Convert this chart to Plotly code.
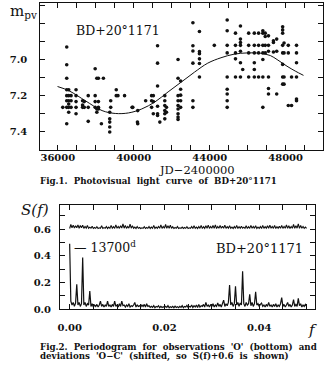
import plotly.graph_objects as go

W, H = 327, 368

# ---------------- Fig.1 data: photovisual magnitudes ----------------
obs_columns_jd = [36261, 36470, 36574, 36698, 36960, 37304, 37393, 37602, 37967, 38055,
                  38139, 38295, 38400, 38734, 38786, 39078, 39167, 39516, 39913, 39949,
                  40194, 40210, 40627, 40940, 41030, 41254, 41374, 41635, 41723, 42333,
                  42469, 43116, 43460, 44243, 44921, 45359, 45620, 45740, 46053, 46350,
                  46575, 46800, 46925, 47097, 47358, 47530, 47843, 47916, 48140, 48312,
                  48573]
obs_columns_mag = [
    [7.266],
    [6.930, 7.029, 7.104, 7.168, 7.201, 7.229, 7.266, 7.357],
    [7.168, 7.201, 7.229, 7.247, 7.266, 7.293],
    [7.201, 7.229, 7.266],
    [7.168, 7.201, 7.234, 7.266, 7.302],
    [7.229, 7.253, 7.266],
    [7.234, 7.266],
    [7.201, 7.266, 7.344],
    [7.051, 7.201, 7.234, 7.266],
    [7.104, 7.275, 7.293],
    [7.104, 7.234, 7.266, 7.275],
    [7.357],
    [7.104],
    [7.293, 7.330, 7.348, 7.375, 7.403],
    [7.229, 7.266],
    [7.168, 7.201],
    [7.201],
    [7.201],
    [7.266],
    [7.266],
    [7.348],
    [7.284, 7.357],
    [7.229],
    [7.201, 7.229, 7.266],
    [7.201, 7.234, 7.302],
    [6.923, 7.020, 7.147, 7.260, 7.302, 7.311],
    [7.348],
    [7.201, 7.229, 7.256, 7.284, 7.302, 7.330],
    [7.266, 7.293],
    [7.000, 7.104, 7.201, 7.229, 7.256, 7.275, 7.302, 7.320, 7.333],
    [7.119, 7.165, 7.198, 7.229, 7.266],
    [6.795, 6.923, 6.952, 7.020, 7.229, 7.266],
    [6.844, 6.956, 6.967, 6.996, 7.022, 7.097],
    [6.921],
    [6.780, 6.840, 6.921, 6.963, 7.097, 7.165, 7.192, 7.229, 7.266],
    [6.853, 6.921, 6.963, 6.996, 7.097],
    [6.813, 6.886, 6.905, 6.921, 6.954, 7.018, 7.097],
    [7.055],
    [6.853, 6.921, 6.963, 7.097],
    [6.853, 6.921, 6.963, 7.018, 7.055, 7.097],
    [6.853, 6.921, 6.963, 7.097],
    [6.840, 6.853, 6.921, 6.963, 7.000, 7.097, 7.266],
    [6.853, 6.872, 6.921, 6.963],
    [6.868, 6.921, 6.954, 7.097, 7.161, 7.192],
    [6.895, 6.905, 6.958],
    [6.886, 6.954, 7.192],
    [6.817, 6.835, 6.853, 6.921, 6.963, 7.027, 7.097, 7.137],
    [6.908, 6.963, 7.097, 7.137],
    [6.921, 6.963, 7.256],
    [7.097, 7.256],
    [6.921, 6.963, 7.018, 7.097, 7.220, 7.229],
]

fit_jd = [35985, 36595, 37461, 38330, 39026, 39725, 40419, 41113, 41809, 42505,
          43200, 43898, 44593, 45286, 45985, 46679, 47200, 47550, 48072, 48505, 48940]
fit_mag = [7.150, 7.174, 7.230, 7.284, 7.300, 7.297, 7.275, 7.236, 7.180, 7.125,
           7.070, 7.020, 6.990, 6.970, 6.963, 6.965, 6.978, 7.000, 7.037, 7.064, 7.088]

# ---------------- Fig.2 data: periodograms ----------------
freq_step = 0.00025
S_obs = [
    0.49, 0.06, 0.03, 0.05, 0.02, 0.045, 0.185, 0.03, 0.05, 0.02,
    0.04, 0.387, 0.03, 0.05, 0.02, 0.04, 0.03, 0.135, 0.02, 0.04,
    0.015, 0.03, 0.02, 0.035, 0.015, 0.03, 0.06, 0.02, 0.035, 0.015,
    0.03, 0.02, 0.06, 0.02, 0.03, 0.015, 0.035, 0.02, 0.06, 0.02,
    0.03, 0.015, 0.04, 0.02, 0.06, 0.025, 0.03, 0.015, 0.03, 0.02,
    0.04, 0.015, 0.025, 0.02, 0.03, 0.05, 0.015, 0.03, 0.02, 0.025,
    0.015, 0.03, 0.02, 0.035, 0.015, 0.04, 0.02, 0.025, 0.012, 0.02,
    0.012, 0.025, 0.01, 0.02, 0.015, 0.025, 0.01, 0.02, 0.012, 0.018,
    0.01, 0.02, 0.012, 0.025, 0.01, 0.018, 0.012, 0.02, 0.01, 0.022,
    0.012, 0.018, 0.01, 0.02, 0.012, 0.025, 0.01, 0.02, 0.015, 0.028,
    0.012, 0.02, 0.015, 0.03, 0.012, 0.025, 0.015, 0.03, 0.012, 0.035,
    0.015, 0.025, 0.02, 0.035, 0.015, 0.05, 0.02, 0.03, 0.015, 0.035,
    0.02, 0.04, 0.015, 0.03, 0.02, 0.045, 0.02, 0.035, 0.015, 0.04,
    0.067, 0.02, 0.04, 0.025, 0.05, 0.18, 0.03, 0.05, 0.02, 0.04,
    0.17, 0.03, 0.05, 0.02, 0.045, 0.03, 0.284, 0.04, 0.02, 0.05,
    0.03, 0.04, 0.11, 0.025, 0.05, 0.02, 0.04, 0.13, 0.03, 0.04,
    0.02, 0.035, 0.045, 0.02, 0.03, 0.015, 0.035, 0.02, 0.05, 0.02,
    0.03, 0.015, 0.035, 0.02, 0.04, 0.015, 0.03, 0.02, 0.04, 0.086,
    0.02, 0.035, 0.015, 0.03, 0.05, 0.02, 0.035, 0.015, 0.03, 0.07,
    0.02, 0.035, 0.02, 0.08, 0.025, 0.04, 0.015, 0.03, 0.02, 0.035,
    0.02,
]
S_oc_shifted = [
    0.605, 0.635, 0.61, 0.63, 0.608, 0.625, 0.61, 0.632, 0.607, 0.628,
    0.61, 0.63, 0.606, 0.62, 0.608, 0.627, 0.606, 0.615, 0.607, 0.622,
    0.605, 0.612, 0.606, 0.618, 0.605, 0.61, 0.606, 0.625, 0.605, 0.612,
    0.607, 0.62, 0.605, 0.615, 0.606, 0.628, 0.607, 0.618, 0.606, 0.632,
    0.607, 0.62, 0.606, 0.625, 0.608, 0.64, 0.607, 0.628, 0.606, 0.62,
    0.608, 0.638, 0.607, 0.625, 0.606, 0.615, 0.605, 0.62, 0.606, 0.612,
    0.605, 0.61, 0.606, 0.618, 0.605, 0.612, 0.606, 0.62, 0.605, 0.615,
    0.606, 0.628, 0.605, 0.615, 0.606, 0.62, 0.607, 0.632, 0.606, 0.62,
    0.607, 0.635, 0.606, 0.625, 0.607, 0.63, 0.606, 0.618, 0.605, 0.612,
    0.606, 0.62, 0.605, 0.61, 0.606, 0.615, 0.605, 0.612, 0.606, 0.618,
    0.605, 0.61, 0.606, 0.62, 0.605, 0.625, 0.606, 0.615, 0.605, 0.62,
    0.606, 0.628, 0.605, 0.618, 0.606, 0.625, 0.607, 0.63, 0.606, 0.62,
    0.607, 0.627, 0.606, 0.632, 0.605, 0.62, 0.607, 0.628, 0.606, 0.622,
    0.607, 0.63, 0.606, 0.618, 0.607, 0.625, 0.606, 0.615, 0.605, 0.62,
    0.606, 0.628, 0.605, 0.618, 0.606, 0.622, 0.607, 0.615, 0.606, 0.625,
    0.605, 0.618, 0.606, 0.628, 0.607, 0.62, 0.606, 0.625, 0.605, 0.615,
    0.606, 0.62, 0.605, 0.628, 0.606, 0.618, 0.607, 0.625, 0.606, 0.63,
    0.607, 0.62, 0.606, 0.628, 0.605, 0.618, 0.606, 0.622, 0.607, 0.628,
    0.606, 0.62, 0.607, 0.632, 0.606, 0.625, 0.605, 0.62, 0.607, 0.635,
    0.606, 0.625, 0.607, 0.64, 0.606, 0.628, 0.607, 0.62, 0.606, 0.615,
    0.605,
]
freq = [i * freq_step for i in range(len(S_obs))]

# tick labels
top_xticks = [36000, 40000, 44000, 48000]
top_yticks = [7.0, 7.2, 7.4]
bot_xticks = [0.00, 0.02, 0.04]
bot_yticks = [0.0, 0.2, 0.4, 0.6]

jd_obs, mag_obs = [], []
for jd, mags in zip(obs_columns_jd, obs_columns_mag):
    for m in mags:
        jd_obs.append(jd)
        mag_obs.append(m)

SERIF = "DejaVu Serif"
INK = "#111111"

fig = go.Figure()
fig.add_trace(go.Scatter(x=jd_obs, y=mag_obs, mode="markers",
                         marker=dict(size=3.6, color=INK), xaxis="x", yaxis="y",
                         showlegend=False, hoverinfo="skip"))
fig.add_trace(go.Scatter(x=fit_jd, y=fit_mag, mode="lines", line=dict(color=INK, width=1, shape="spline"),
                         xaxis="x", yaxis="y", showlegend=False, hoverinfo="skip"))
fig.add_trace(go.Scatter(x=freq, y=S_oc_shifted, mode="lines", line=dict(color=INK, width=1.1),
                         xaxis="x2", yaxis="y2", showlegend=False, hoverinfo="skip"))
fig.add_trace(go.Scatter(x=freq, y=S_obs, mode="lines", line=dict(color=INK, width=1.2),
                         xaxis="x2", yaxis="y2", showlegend=False, hoverinfo="skip"))


def px(x):
    return x / W


def py(y):
    return 1 - y / H


tickfont = dict(family=SERIF, size=10, color=INK, weight="bold")
common = dict(showgrid=False, zeroline=False, showline=True, linecolor=INK, linewidth=1.2,
              mirror="ticks", ticks="inside", tickcolor=INK, tickwidth=1, ticklen=5,
              tickfont=tickfont)

fig.update_layout(
    width=W, height=H, margin=dict(l=0, r=0, t=0, b=0),
    paper_bgcolor="white", plot_bgcolor="white",
    xaxis=dict(domain=[px(37.7), px(323)], range=[35080, 49970], anchor="y",
               tickvals=top_xticks, ticktext=[str(v) for v in top_xticks],
               minor=dict(dtick=1000, tick0=36000, ticks="inside", ticklen=5, tickcolor=INK),
               ticklabelstandoff=-2, **common),
    yaxis=dict(domain=[py(152), py(3)], range=[7.503, 6.685], anchor="x",
               tickvals=top_yticks, ticktext=["%.1f" % v for v in top_yticks],
               minor=dict(dtick=0.1, tick0=6.8, ticks="inside", ticklen=5, tickcolor=INK),
               ticklabelstandoff=10, **common),
    xaxis2=dict(domain=[px(57.7), px(315)], range=[-0.002, 0.0518], anchor="y2",
                tickvals=bot_xticks, ticktext=["%.2f" % v for v in bot_xticks],
                minor=dict(dtick=0.005, tick0=0, ticks="inside", ticklen=5, tickcolor=INK),
                ticklabelstandoff=9, **common),
    yaxis2=dict(domain=[py(313.3), py(208)], range=[0, 0.78], anchor="x2",
                tickvals=bot_yticks, ticktext=["%.1f" % v for v in bot_yticks],
                minor=dict(dtick=0.1, tick0=0, ticks="inside", ticklen=5, tickcolor=INK),
                ticklabelstandoff=6, **common),
)


def txt(text, x, y, size, xanchor="left", italic=False, bold=False):
    fig.add_annotation(text=text, x=px(x), y=py(y), xref="paper", yref="paper",
                       xanchor=xanchor, yanchor="middle", showarrow=False,
                       font=dict(family=SERIF, size=size, color=INK,
                                 style="italic" if italic else "normal",
                                 weight="bold" if bold else "normal"))


txt("m<sub>pv</sub>", 5, 12, 15)
txt("BD+20°1171", 72, 31, 12.5)
txt("JD−2400000", 196, 172, 11.5, xanchor="center")
txt("Fig.1.  Photovisual  light  curve  of  BD+20°1171", 35, 183, 8.7, bold=True)
txt("S(f)", 16, 213, 15, italic=True)
txt("— 13700<sup>d</sup>", 70, 250, 12.5)
txt("BD+20°1171", 305, 252, 13, xanchor="right")
txt("f", 306, 335, 15, italic=True)
txt("Fig.2.  Periodogram  for  observations  'O'  (bottom)  and", 35, 352, 8.7, bold=True)
txt("deviations  'O−C'  (shifted,  so  S(f)+0.6  is  shown)", 35, 361, 8.7, bold=True)

fig.write_html("out.html")
